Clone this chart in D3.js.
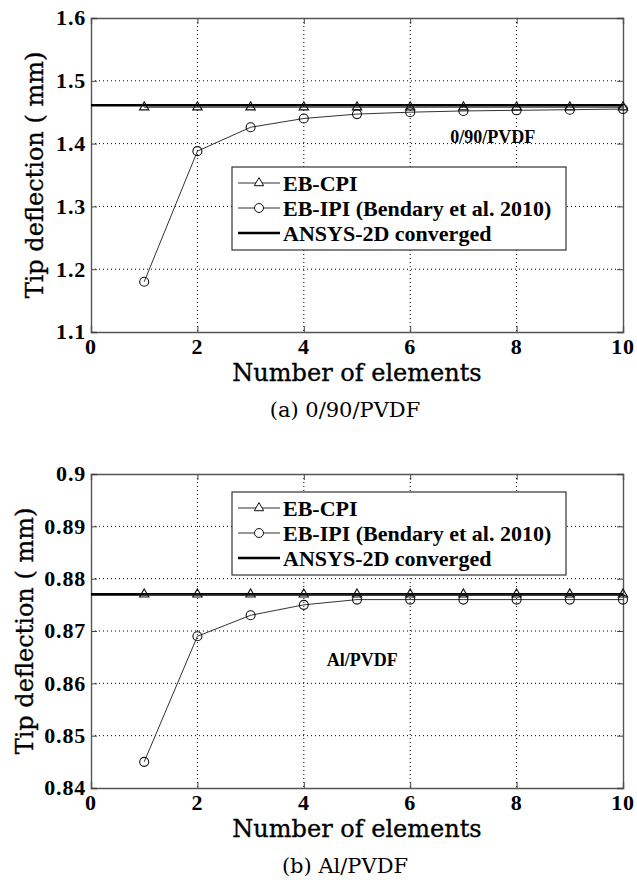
<!DOCTYPE html>
<html>
<head>
<meta charset="utf-8">
<script src="https://cdn.jsdelivr.net/npm/d3@7"></script>
<style>
  body { margin: 0; background: #fff; }
</style>
</head>
<body>
<div id="graph"></div>
<script>
// shared
var elements = [1, 2, 3, 4, 5, 6, 7, 8, 9, 10];
var seriesNames = ["EB-CPI", "EB-IPI (Bendary et al. 2010)", "ANSYS-2D converged"];
var xTicks = [0, 2, 4, 6, 8, 10];
var xTickLabels = ["0", "2", "4", "6", "8", "10"];
var xLabel = "Number of elements";
var yLabel = "Tip deflection ( mm)";

// (a) 0/90/PVDF
var cpiA = [1.458, 1.458, 1.458, 1.458, 1.458, 1.458, 1.458, 1.458, 1.458, 1.458];
var ipiA = [1.180, 1.388, 1.426, 1.440, 1.447, 1.450, 1.452, 1.453, 1.454, 1.455];
var ansysA = 1.461;
var yTicksA = [1.1, 1.2, 1.3, 1.4, 1.5, 1.6];
var yTickLabelsA = ["1.1", "1.2", "1.3", "1.4", "1.5", "1.6"];

// (b) Al/PVDF
var cpiB = [0.877, 0.877, 0.877, 0.877, 0.877, 0.877, 0.877, 0.877, 0.877, 0.877];
var ipiB = [0.845, 0.869, 0.873, 0.875, 0.876, 0.876, 0.876, 0.876, 0.876, 0.876];
var ansysB = 0.877;
var yTicksB = [0.84, 0.85, 0.86, 0.87, 0.88, 0.89, 0.9];
var yTickLabelsB = ["0.84", "0.85", "0.86", "0.87", "0.88", "0.89", "0.9"];

var W = 637, H = 880;
var left = 91, plotW = 532, plotH = 314;

var svg = d3.select('#graph').append('svg')
    .attr('width', W)
    .attr('height', H);

var panels = [
    {cpi: cpiA, ipi: ipiA, ansys: ansysA, ticks: yTicksA, tickLabels: yTickLabelsA,
     caption: "(a) 0/90/PVDF", tag: "0/90/PVDF", tagAt: [7.55, 1.401],
     top: 18, legendTop: 149, yLabelX: 43},
    {cpi: cpiB, ipi: ipiB, ansys: ansysB, ticks: yTicksB, tickLabels: yTickLabelsB,
     caption: "(b) Al/PVDF", tag: "Al/PVDF", tagAt: [5.1, 0.8634],
     top: 474, legendTop: 18, yLabelX: 33}
];

var triangle = d3.symbol().type(d3.symbolTriangle).size(38);

function tickText(sel) {
    sel.style('font-family', '"Liberation Serif", serif')
        .style('font-weight', 'bold')
        .style('font-size', '22px')
        .style('letter-spacing', '0.8px')
        .style('fill', '#000');
}

panels.forEach(function (p) {
    var g = svg.append('g')
        .attr('transform', 'translate(' + left + ',' + p.top + ')');

    var x = d3.scaleLinear().domain([0, 10]).range([0, plotW]);
    var y = d3.scaleLinear()
        .domain([p.ticks[0], p.ticks[p.ticks.length - 1]])
        .range([plotH, 0]);

    // dotted grid
    g.append('g')
        .selectAll('line')
        .data(xTicks.slice(1, -1))
        .enter().append('line')
        .attr('x1', function (d) { return x(d); })
        .attr('x2', function (d) { return x(d); })
        .attr('y1', 0).attr('y2', plotH)
        .style('stroke', '#000').style('stroke-width', 1)
        .style('stroke-dasharray', '1,3');
    g.append('g')
        .selectAll('line')
        .data(p.ticks.slice(1, -1))
        .enter().append('line')
        .attr('y1', function (d) { return y(d); })
        .attr('y2', function (d) { return y(d); })
        .attr('x1', 0).attr('x2', plotW)
        .style('stroke', '#000').style('stroke-width', 1)
        .style('stroke-dasharray', '1,3');

    // axis box + inward ticks (labels drawn separately below)
    g.append('g').attr('transform', 'translate(0,' + plotH + ')')
        .call(d3.axisBottom(x).tickValues(xTicks).tickSize(-6).tickFormat(''));
    g.append('g').call(d3.axisTop(x).tickValues(xTicks).tickSize(-6).tickFormat(''));
    g.append('g').call(d3.axisLeft(y).tickValues(p.ticks).tickSize(-6).tickFormat(''));
    g.append('g').attr('transform', 'translate(' + plotW + ',0)')
        .call(d3.axisRight(y).tickValues(p.ticks).tickSize(-6).tickFormat(''));

    g.selectAll('.domain').style('stroke', '#555').style('stroke-width', 1.4);
    g.selectAll('.tick line').style('stroke', '#444');

    g.selectAll('text.xtl').data(xTicks).enter().append('text')
        .attr('class', 'xtl')
        .attr('x', function (d) { return x(d); })
        .attr('y', plotH + 22)
        .attr('text-anchor', 'middle')
        .text(function (d, i) { return xTickLabels[i]; })
        .call(tickText);

    g.selectAll('text.ytl').data(p.ticks).enter().append('text')
        .attr('class', 'ytl')
        .attr('x', -5)
        .attr('y', function (d) { return y(d); })
        .attr('dy', '0.34em')
        .attr('text-anchor', 'end')
        .text(function (d, i) { return p.tickLabels[i]; })
        .call(tickText);

    // ANSYS converged line
    g.append('line')
        .attr('x1', x(0)).attr('x2', x(10))
        .attr('y1', y(p.ansys)).attr('y2', y(p.ansys))
        .style('stroke', '#000').style('stroke-width', 2.6);

    var line = d3.line()
        .x(function (d, i) { return x(elements[i]); })
        .y(function (d) { return y(d); });

    // EB-CPI
    g.append('path').datum(p.cpi).attr('d', line)
        .style('fill', 'none').style('stroke', '#222').style('stroke-width', 1);
    g.selectAll('path.tri').data(p.cpi).enter().append('path')
        .attr('class', 'tri')
        .attr('transform', function (d, i) { return 'translate(' + x(elements[i]) + ',' + y(d) + ')'; })
        .attr('d', triangle)
        .style('fill', 'none').style('stroke', '#111').style('stroke-width', 1.1);

    // EB-IPI
    g.append('path').datum(p.ipi).attr('d', line)
        .style('fill', 'none').style('stroke', '#333').style('stroke-width', 1);
    g.selectAll('circle.ipi').data(p.ipi).enter().append('circle')
        .attr('class', 'ipi')
        .attr('cx', function (d, i) { return x(elements[i]); })
        .attr('cy', function (d) { return y(d); })
        .attr('r', 4.5)
        .style('fill', 'none').style('stroke', '#111').style('stroke-width', 1.1);

    // laminate tag inside axes
    g.append('text')
        .attr('x', x(p.tagAt[0])).attr('y', y(p.tagAt[1]))
        .attr('text-anchor', 'middle')
        .style('font-family', '"Liberation Serif", serif')
        .style('font-weight', 'bold').style('font-size', '18px')
        .text(p.tag);

    // legend
    var lg = g.append('g').attr('transform', 'translate(141,' + p.legendTop + ')');
    lg.append('rect')
        .attr('width', 334).attr('height', 83)
        .style('fill', '#fff').style('stroke', '#333').style('stroke-width', 1.2);
    seriesNames.forEach(function (name, i) {
        var cy = 16 + i * 25;
        lg.append('line')
            .attr('x1', 6).attr('x2', 48).attr('y1', cy).attr('y2', cy)
            .style('stroke', i == 2 ? '#000' : '#333')
            .style('stroke-width', i == 2 ? 2.4 : 1);
        if (i == 0) {
            lg.append('path').attr('d', triangle)
                .attr('transform', 'translate(27,' + cy + ')')
                .style('fill', '#fff').style('stroke', '#111');
        } else if (i == 1) {
            lg.append('circle').attr('cx', 27).attr('cy', cy).attr('r', 4.5)
                .style('fill', '#fff').style('stroke', '#111');
        }
        lg.append('text')
            .attr('x', 51).attr('y', cy).attr('dy', '0.35em')
            .style('font-family', '"Liberation Serif", serif')
            .style('font-weight', 'bold').style('font-size', '22px')
            .text(name);
    });

    // axis labels
    g.append('text')
        .attr('x', plotW / 2).attr('y', plotH + 49)
        .attr('text-anchor', 'middle')
        .style('font-family', '"DejaVu Serif", serif').style('font-size', '24px')
        .style('stroke', '#000').style('stroke-width', 0.35)
        .text(xLabel);

    svg.append('text')
        .attr('transform', 'translate(' + p.yLabelX + ',' + (p.top + plotH / 2) + ') rotate(-90)')
        .attr('text-anchor', 'middle')
        .style('font-family', '"DejaVu Serif", serif').style('font-size', '24px')
        .style('stroke', '#000').style('stroke-width', 0.35)
        .text(yLabel);

    // sub-caption
    g.append('text')
        .attr('x', plotW / 2 - 12).attr('y', plotH + 85)
        .attr('text-anchor', 'middle')
        .style('font-family', '"DejaVu Serif", serif').style('font-size', '21px')
        .text(p.caption);
});
</script>
</body>
</html>
